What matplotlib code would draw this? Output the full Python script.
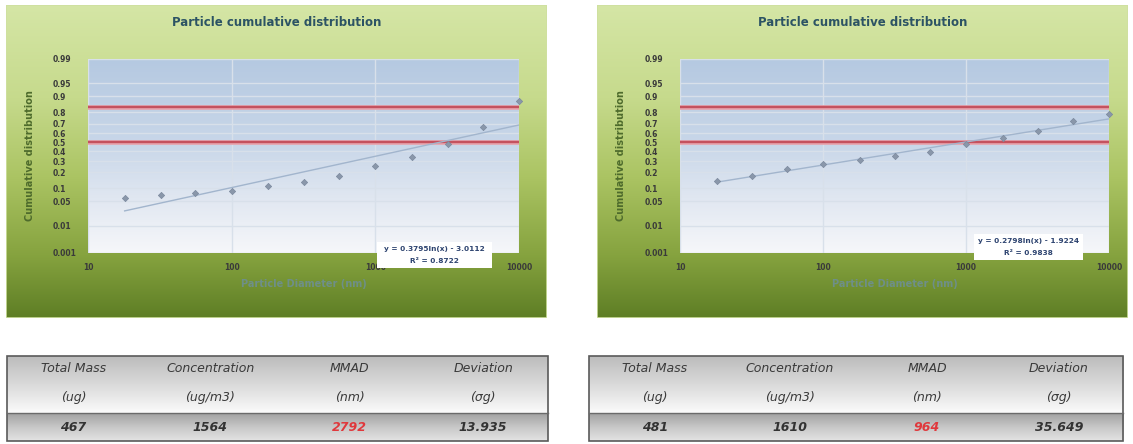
import numpy as np
import matplotlib
matplotlib.use("Agg")
import matplotlib.pyplot as plt
from matplotlib.patches import Rectangle
from matplotlib.colors import LinearSegmentedColormap
from matplotlib.ticker import NullLocator
from statistics import NormalDist

W, H = 1133, 444

# MOUDI stage cut diameters (nm) and cumulative mass fraction per sample
diameter_nm = [18, 32, 56, 100, 180, 320, 560, 1000, 1800, 3200, 5600, 10000]
cum_sample_a = [0.059, 0.071, 0.079, 0.088, 0.109, 0.133, 0.173, 0.255,
                0.346, 0.485, 0.664, 0.875]
cum_sample_b = [0.139, 0.173, 0.228, 0.270, 0.312, 0.353, 0.396, 0.477,
                0.553, 0.626, 0.724, 0.783]

# logarithmic trendlines on the probit value: slope, intercept, R^2
fit_sample_a = (0.3795, -3.0112, 0.8722)
fit_sample_b = (0.2798, -1.9224, 0.9838)

prob_ticks = [0.001, 0.01, 0.05, 0.1, 0.2, 0.3, 0.4, 0.5, 0.6, 0.7, 0.8,
              0.9, 0.95, 0.99]
prob_labels = ["0.001", "0.01", "0.05", "0.1", "0.2", "0.3", "0.4", "0.5",
               "0.6", "0.7", "0.8", "0.9", "0.95", "0.99"]
x_ticks = [10, 100, 1000, 10000]
x_labels = ["10", "100", "1000", "10000"]
# reference levels in probit units: median (z=0) and +1 sigma (z=1)
ref_z = [0.0, 1.0]

header_top = ["Total Mass", "Concentration", "MMAD", "Deviation"]
header_unit = ["(ug)", "(ug/m3)", "(nm)", "(σg)"]
summary_a = ["467", "1564", "2792", "13.935"]
summary_b = ["481", "1610", "964", "35.649"]

probit = NormalDist().inv_cdf


def rect(x0, y0, x1, y1):
    return [x0 / W, 1 - y1 / H, (x1 - x0) / W, (y1 - y0) / H]


def gradient_axes(fig, box, stops, zorder):
    a = fig.add_axes(rect(*box), zorder=zorder)
    a.set_axis_off()
    cmap = LinearSegmentedColormap.from_list("grad", stops)
    grad = np.linspace(0, 1, 256).reshape(-1, 1)
    a.imshow(grad, cmap=cmap, aspect="auto", extent=(0, 1, 0, 1),
             origin="upper", interpolation="bilinear")
    a.set_xlim(0, 1)
    a.set_ylim(0, 1)
    return a


chart_stops = [(0.0, "#d5e6a6"), (0.3, "#c6da8c"), (0.55, "#abc463"),
               (0.8, "#86a33f"), (1.0, "#5e7e25")]
plot_stops = [(0.0, "#b5c9e1"), (0.45, "#c9d7e9"), (0.75, "#e3e9f2"),
              (1.0, "#f6f7fa")]
head_stops = [(0.0, "#bcbcbc"), (0.5, "#dadada"), (1.0, "#fbfbfb")]
row_stops = [(0.0, "#9e9e9e"), (0.5, "#c6c6c6"), (1.0, "#e4e4e4")]

fig = plt.figure(figsize=(W / 100, H / 100), dpi=100)
fig.patch.set_facecolor("white")


def chart_panel(chart_box, plot_box, cum, fit, eq_box):
    cx0, cy0, cx1, cy1 = chart_box
    px0, py0, px1, py1 = plot_box
    bg = gradient_axes(fig, chart_box, chart_stops, zorder=1)
    bg.add_patch(Rectangle((0, 0), 1, 1, transform=bg.transAxes,
                           fill=False, ec="#cfe0a0", lw=1.2))
    gradient_axes(fig, plot_box, plot_stops, zorder=2)

    ax = fig.add_axes(rect(*plot_box), zorder=3)
    ax.patch.set_alpha(0)
    ax.set_xscale("log")
    ax.set_xlim(10, 10000)
    ax.set_ylim(probit(prob_ticks[0]), probit(prob_ticks[-1]))
    ax.set_yticks([probit(p) for p in prob_ticks], prob_labels)
    ax.set_xticks(x_ticks, x_labels)
    ax.xaxis.set_minor_locator(NullLocator())
    ax.grid(True, color="#d8e0ea", lw=1.0)
    ax.set_axisbelow(True)
    for s in ax.spines.values():
        s.set_visible(False)
    ax.tick_params(axis="y", length=0, pad=25.2, labelsize=5.5,
                   labelcolor="#3a3a3a")
    ax.tick_params(axis="x", length=0, pad=7.5, labelsize=5.5,
                   labelcolor="#3a3a3a")
    for lbl in ax.get_yticklabels() + ax.get_xticklabels():
        lbl.set_fontweight("bold")
    for lbl in ax.get_yticklabels():
        lbl.set_horizontalalignment("left")

    for z in ref_z:
        ax.axhline(z, color="#e8a4ae", lw=3.4, zorder=2)
        ax.axhline(z, color="#c4525f", lw=1.7, zorder=2)

    slope, intercept, r2 = fit
    xx = np.geomspace(diameter_nm[0], diameter_nm[-1], 200)
    ax.plot(xx, slope * np.log(xx) + intercept, color="#a2b5cd", lw=1.0,
            zorder=3)
    ax.plot(diameter_nm, [probit(c) for c in cum], ls="none", marker="D",
            ms=3.2, mfc="#8a97aa", mec="#7a889d", mew=0.5, zorder=4,
            clip_on=False)

    mid_x = (cx0 + cx1) / 2
    fig.text(mid_x / W, 1 - 22 / H, "Particle cumulative distribution",
             ha="center", va="center", fontsize=8.5, fontweight="bold",
             color="#2c5364", zorder=6)
    fig.text(((px0 + px1) / 2) / W, 1 - 284 / H, "Particle Diameter (nm)",
             ha="center", va="center", fontsize=7, fontweight="bold",
             color="#6e8f88", zorder=6)
    fig.text((cx0 + 24) / W, 1 - ((py0 + py1) / 2) / H,
             "Cumulative distribution", ha="center", va="center",
             rotation=90, fontsize=7, fontweight="bold", color="#4e6b2c",
             zorder=6)

    ex0, ey0, ex1, ey1 = eq_box
    fig.add_artist(Rectangle((ex0 / W, 1 - ey1 / H), (ex1 - ex0) / W,
                             (ey1 - ey0) / H, transform=fig.transFigure,
                             fc="white", ec="none", zorder=5))
    sign = "-" if intercept < 0 else "+"
    eq = f"y = {slope:.4f}ln(x) {sign} {abs(intercept):.4f}"
    exm = (ex0 + ex1) / 2
    fig.text(exm / W, 1 - (ey0 + 7) / H, eq, ha="center", va="center",
             fontsize=5.3, fontweight="bold", color="#2e4470", zorder=6)
    fig.text(exm / W, 1 - (ey0 + 19) / H, f"R² = {r2:.4f}", ha="center",
             va="center", fontsize=5.3, fontweight="bold", color="#2e4470",
             zorder=6)


def summary_table(box, values):
    tx0, ty0, tx1, ty1 = box
    sep = 413
    gradient_axes(fig, (tx0, ty0, tx1, sep), head_stops, zorder=1)
    gradient_axes(fig, (tx0, sep, tx1, ty1), row_stops, zorder=1)
    fig.add_artist(Rectangle((tx0 / W, 1 - ty1 / H), (tx1 - tx0) / W,
                             (ty1 - ty0) / H, transform=fig.transFigure,
                             fill=False, ec="#5a5a5a", lw=1.2, zorder=5))
    fig.add_artist(plt.Line2D([tx0 / W, tx1 / W], [1 - sep / H, 1 - sep / H],
                              transform=fig.transFigure, color="#6a6a6a",
                              lw=1.0, zorder=5))
    col_frac = [0.123, 0.376, 0.633, 0.88]
    for i, f in enumerate(col_frac):
        xc = (tx0 + f * (tx1 - tx0)) / W
        fig.text(xc, 1 - 368 / H, header_top[i], ha="center", va="center",
                 fontsize=9, style="italic", color="#3a3a3a", zorder=6)
        fig.text(xc, 1 - 397 / H, header_unit[i], ha="center", va="center",
                 fontsize=9, style="italic", color="#3a3a3a", zorder=6)
        color = "#e0383c" if header_top[i] == "MMAD" else "#333333"
        fig.text(xc, 1 - 427 / H, values[i], ha="center", va="center",
                 fontsize=9, style="italic", fontweight="bold", color=color,
                 zorder=6)


chart_panel((6, 5, 547, 318), (88, 59, 519, 253), cum_sample_a,
            fit_sample_a, (377, 242, 492, 268))
chart_panel((597, 5, 1128, 318), (680, 59, 1109, 253), cum_sample_b,
            fit_sample_b, (974, 234, 1083, 260))
summary_table((7, 356, 548, 441), summary_a)
summary_table((589, 356, 1123, 441), summary_b)

fig.savefig("out.png", dpi=100, facecolor="white")
